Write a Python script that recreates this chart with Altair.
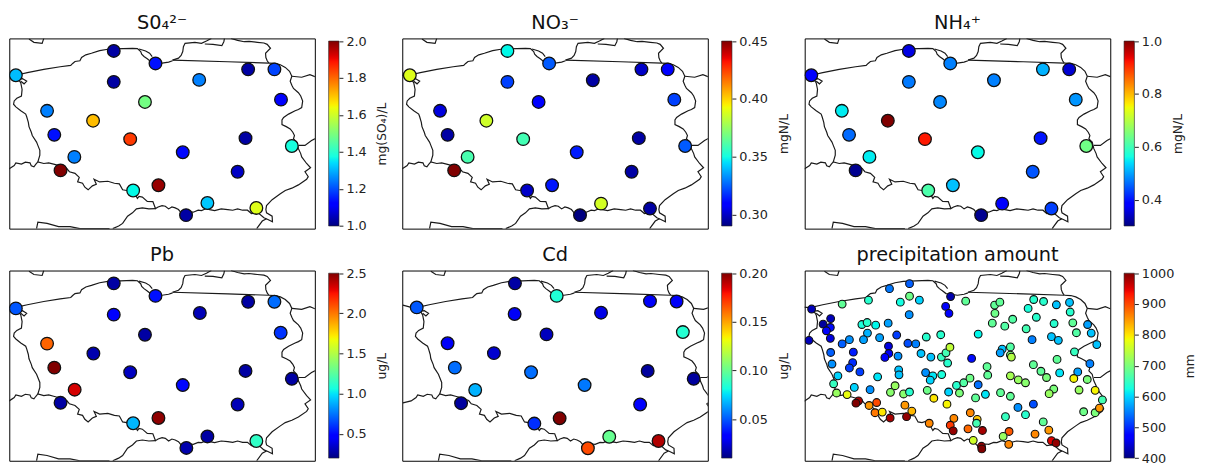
import altair as alt
import pandas as pd

FONT = "DejaVu Sans"

# Border polylines, in map grid units (origin at the top-left of the first map)
BORDER_LINES = [
    [(0,215),(25,222),(45,222),(80,214),(130,204),(180,196),(212,192),(218,186),(225,180),(240,178),(245,168),(258,160),(275,155),(300,147),(325,143),(345,142),(400,140),(415,141),(425,150),(428,158),(435,165),(445,172),(455,180),(490,185),(510,182),(522,178)],
    [(420,142),(440,148),(452,155),(460,165)],
    [(522,176),(690,181),(815,185)],
    [(522,176),(540,170),(548,162),(553,150),(555,135),(560,125),(590,122),(610,125),(625,118),(640,110)],
    [(620,127),(645,128),(672,132),(678,120),(680,110)],
    [(700,110),(720,116),(740,120),(755,119),(780,122),(800,124),(810,128),(820,140),(805,155),(806,168),(810,178),(815,185)],
    [(815,185),(835,186),(850,190),(865,198),(878,210),(885,225),(880,240),(885,252),(890,262),(905,275),(912,285),(918,300),(915,320),(905,326),(895,330),(875,340),(860,350),(855,358),(855,372),(868,378),(880,385),(888,395),(893,405),(890,415),(900,425),(905,445),(912,460),(915,470),(930,490),(942,503),(925,515),(935,530),(930,538),(905,555),(885,565),(865,572),(850,582),(825,600),(808,618),(806,630),(808,640),(825,650),(826,667),(812,660),(800,655),(785,642),(775,640),(762,642),(750,632),(735,632),(720,628),(705,632),(690,630),(670,628),(650,633),(635,630),(625,627),(610,633),(600,632),(585,638),(575,637),(560,645),(548,640),(540,630),(530,625),(520,622),(510,628),(500,620),(490,618),(478,622),(470,627),(462,606),(445,605),(430,592),(420,590),(415,596),(405,578),(395,568),(382,572),(370,570),(360,552),(345,550),(325,544),(300,546),(283,538),(290,553),(278,558),(265,570),(255,562),(248,550),(233,546),(238,532),(225,520),(208,515),(200,505),(182,498),(160,492),(145,488),(130,490),(112,485),(106,492),(100,500),(92,497),(88,488),(74,486),(62,492),(45,488),(40,496),(25,506),(0,512)],
    [(45,222),(52,232),(60,245),(64,265),(62,285),(48,292),(40,300),(38,310),(45,318),(60,330),(75,340),(78,348),(83,365),(85,378),(92,395),(95,405),(108,425),(112,435),(118,450),(118,465),(112,485)],
    [(45,235),(65,232),(78,240),(70,248),(60,240)],
    [(885,225),(915,228),(940,220),(955,226),(985,222)],
    [(905,435),(925,435),(945,420),(955,415),(985,405)],
    [(340,688),(358,680),(370,672),(385,650),(400,640),(412,628),(430,625),(450,628),(470,627)],
    [(808,658),(795,665),(778,688)],
    [(108,688),(112,668),(140,672),(175,682),(210,682),(240,688),(330,688)],
    [(85,112),(100,122),(125,125),(130,110)],
]
BORDER_OFFSET = (25, 110)

so4 = [(20,112,1.31),(318,38,1.03),(445,76,1.14),(578,126,1.25),(727,94,1.03),(807,94,1.19),(827,186,1.12),(318,132,1.03),(413,193,1.49),(115,220,1.25),(255,250,1.71),(137,293,1.14),(368,306,1.85),(198,360,1.25),(528,346,1.13),(719,303,1.03),(860,327,1.38),(156,401,2.0),(695,405,1.06),(454,446,1.98),(377,462,1.37),(603,500,1.32),(538,537,1.03),(752,515,1.62)]
no3 = [(23,112,0.389),(320,38,0.349),(447,76,0.324),(580,127,0.295),(728,94,0.30),(808,94,0.309),(828,186,0.32),(320,132,0.32),(415,193,0.31),(115,220,0.303),(256,250,0.386),(138,293,0.295),(368,306,0.359),(199,360,0.36),(531,346,0.314),(720,303,0.295),(861,327,0.324),(158,401,0.45),(698,405,0.295),(456,446,0.313),(380,462,0.30),(605,502,0.387),(541,537,0.29),(754,517,0.295)]
nh4 = [(20,112,0.38),(317,38,0.36),(443,76,0.475),(576,127,0.475),(725,94,0.51),(805,94,0.35),(825,186,0.49),(317,132,0.47),(412,193,0.48),(113,220,0.55),(253,250,1.0),(135,293,0.46),(366,306,0.92),(197,360,0.55),(527,346,0.56),(718,303,0.40),(857,327,0.64),(155,401,0.31),(694,405,0.445),(451,446,0.52),(376,462,0.61),(601,502,0.38),(537,537,0.31),(751,517,0.43)]
pb = [(20,115,0.68),(318,39,0.27),(445,77,0.52),(580,129,0.31),(727,95,0.27),(807,95,0.73),(826,189,0.6),(318,134,0.45),(413,195,0.27),(115,222,2.05),(256,252,0.29),(137,295,2.5),(368,309,0.33),(199,362,2.33),(528,348,0.5),(719,305,0.27),(860,329,0.27),(156,402,0.27),(695,407,0.31),(454,448,2.47),(377,464,0.9),(603,504,0.27),(539,539,0.29),(752,518,1.14)]
cd = [(17,112,0.05),(316,39,0.016),(443,77,0.084),(578,128,0.027),(727,93,0.03),(808,94,0.03),(827,187,0.085),(315,132,0.03),(412,194,0.02),(111,221,0.03),(252,251,0.023),(133,295,0.054),(365,309,0.054),(195,363,0.067),(528,348,0.056),(720,305,0.015),(860,329,0.015),(152,403,0.015),(697,407,0.032),(452,449,0.2),(375,465,0.042),(603,505,0.10),(538,540,0.168),(753,518,0.192)]

precip_raw = [(40,205,430),(338,128,530),(277,143,545),(133,190,680),(213,178,640),(338,166,690),(310,184,625),(368,178,600),(463,167,425),(509,181,680),(448,197,465),(458,218,470),(337,222,560),(597,193,680),(613,184,680),(598,218,690),(590,248,680),(652,236,670),(628,257,670),(693,265,660),(699,203,630),(716,176,640),(746,182,640),(785,192,590),(825,185,590),(827,214,640),(724,230,640),(778,249,640),(835,247,680),(846,277,670),(880,252,570),(891,278,590),(908,313,590),(770,289,590),(791,300,590),(711,298,550),(98,234,430),(75,251,415),(97,261,480),(85,271,470),(97,294,450),(32,300,430),(193,252,630),(209,246,640),(235,254,620),(273,248,570),(210,278,580),(198,298,570),(247,292,570),(299,284,510),(133,311,530),(155,298,560),(98,337,530),(167,336,490),(333,309,520),(357,311,550),(389,290,640),(433,283,640),(547,281,620),(274,318,450),(275,340,460),(263,352,470),(303,348,560),(373,340,590),(403,351,590),(435,351,650),(449,338,660),(461,321,750),(454,369,640),(527,355,480),(620,327,590),(614,338,570),(645,320,670),(645,345,700),(648,351,740),(840,335,650),(787,358,680),(887,371,550),(102,372,560),(165,368,500),(155,384,510),(187,396,510),(120,408,600),(241,411,610),(305,390,590),(306,405,590),(387,398,560),(409,408,610),(401,421,600),(436,404,630),(574,380,680),(576,406,680),(715,374,680),(738,394,680),(755,413,700),(795,399,610),(850,396,570),(838,416,790),(879,419,700),(645,408,730),(669,420,720),(691,429,710),(107,432,650),(116,460,720),(148,465,780),(170,443,600),(218,450,560),(294,438,720),(280,458,710),(320,463,710),(338,457,640),(392,452,690),(412,476,800),(457,457,600),(481,437,640),(503,429,670),(522,415,690),(547,435,540),(490,460,700),(569,464,610),(539,475,680),(615,459,680),(645,470,680),(777,448,700),(763,462,720),(854,451,720),(903,452,790),(925,481,660),(183,484,980),(175,491,1000),(215,498,850),(238,489,900),(324,497,850),(452,494,790),(668,504,560),(715,494,520),(691,526,640),(630,532,650),(868,517,690),(903,520,700),(916,506,850),(233,520,870),(255,518,800),(279,536,980),(329,532,990),(345,515,830),(398,552,860),(473,537,860),(462,558,910),(471,575,990),(523,520,860),(544,540,820),(542,552,660),(516,569,880),(560,574,980),(745,548,680),(762,573,850),(720,585,860),(641,577,890),(623,592,720),(532,604,760),(557,622,980),(558,630,1000),(640,616,860),(770,605,950),(784,612,990)]
PRECIP_OFFSET = (19, 88)


def jet_channel(t, pts):
    for (a, va), (b, vb) in zip(pts, pts[1:]):
        if a <= t <= b:
            return va + (vb - va) * (t - a) / (b - a)
    return pts[-1][1]


def jet(t):
    r = jet_channel(t, [(0, 0), (.35, 0), (.66, 1), (.89, 1), (1, .5)])
    g = jet_channel(t, [(0, 0), (.125, 0), (.375, 1), (.64, 1), (.91, 0), (1, 0)])
    b = jet_channel(t, [(0, .5), (.11, 1), (.34, 1), (.65, 0), (1, 0)])
    return "#%02x%02x%02x" % (round(r * 255), round(g * 255), round(b * 255))


STEPS = [i / 64 for i in range(65)]
JET = [jet(t) for t in STEPS]
GRADIENT = alt.LinearGradient(
    gradient="linear", x1=0, x2=0, y1=1, y2=0,
    stops=[alt.GradientStop(color=c, offset=t) for c, t in zip(JET, STEPS)],
)

border_df = pd.DataFrame(
    [
        {"seg": s, "i": i, "x": p[0] - BORDER_OFFSET[0], "y": p[1] - BORDER_OFFSET[1]}
        for s, line in enumerate(BORDER_LINES)
        for i, p in enumerate(line)
    ]
)
MAP_H = 193
CB_W = 10.5


def panel(title, stations, lo, hi, ticks, fmt, unit, x0, size, width=310, stroke=1.3):
    df = pd.DataFrame(stations, columns=["x", "y", "value"])
    xs = alt.Scale(domain=[x0, x0 + 930], nice=False, zero=False)
    ys = alt.Scale(domain=[0, 578], reverse=True, nice=False, zero=False)
    lines = (
        alt.Chart(border_df)
        .mark_line(color="#1a1a1a", strokeWidth=1.2, clip=True)
        .encode(
            x=alt.X("x:Q", scale=xs, axis=None),
            y=alt.Y("y:Q", scale=ys, axis=None),
            detail="seg:N",
            order="i:Q",
        )
    )
    points = (
        alt.Chart(df)
        .mark_circle(size=size, stroke="#111111", strokeWidth=stroke, opacity=1, clip=True)
        .encode(
            x=alt.X("x:Q", scale=xs, axis=None),
            y=alt.Y("y:Q", scale=ys, axis=None),
            color=alt.Color(
                "value:Q",
                scale=alt.Scale(domain=[lo, hi], range=JET, clamp=True),
                legend=None,
            ),
        )
    )
    m = (lines + points).properties(
        width=width,
        height=MAP_H,
        view=alt.ViewConfig(stroke="black", strokeWidth=1),
        title=alt.TitleParams(
            title, font=FONT, fontSize=19.6, fontWeight="normal", color="#111111",
            anchor="middle", offset=5,
        ),
    )
    bar = (
        alt.Chart(pd.DataFrame({"lo": [lo], "hi": [hi]}))
        .mark_rect(color=GRADIENT, stroke="#222222", strokeWidth=0.6)
        .encode(
            x=alt.value(0),
            x2=alt.value(CB_W),
            y=alt.Y(
                "lo:Q",
                scale=alt.Scale(domain=[lo, hi], range=[MAP_H - 2.7, 2.7], nice=False, zero=False),
                axis=alt.Axis(
                    orient="right", values=ticks, format=fmt, title=unit, grid=False,
                    domain=False, tickSize=4, tickColor="#222222", tickWidth=1,
                    labelFont=FONT, labelFontSize=13, labelColor="#222222", labelPadding=3,
                    labelOverlap=False, labelBound=False, labelFlush=False,
                    titleFont=FONT, titleFontSize=12.5, titleFontWeight="normal",
                    titleColor="#222222", titlePadding=10, titleAngle=270, titleBaseline="top",
                ),
            ),
            y2="hi:Q",
        )
        .properties(width=CB_W, height=MAP_H, view=alt.ViewConfig(stroke="transparent"))
    )
    return alt.hconcat(m, bar, spacing=12).resolve_scale(color="independent")


precip = [(x - PRECIP_OFFSET[0], y - PRECIP_OFFSET[1], v) for x, y, v in precip_raw]

p1 = panel("S0₄²⁻", so4, 1.0, 2.0, [1.0, 1.2, 1.4, 1.6, 1.8, 2.0], ".1f", "mg(SO₄)/L", 0, 165)
p2 = panel("NO₃⁻", no3, 0.29, 0.45, [0.30, 0.35, 0.40, 0.45], ".2f", "mgN/L", 0, 165)
p3 = panel("NH₄⁺", nh4, 0.3, 1.0, [0.4, 0.6, 0.8, 1.0], ".1f", "mgN/L", 0, 165)
p4 = panel("Pb", pb, 0.2, 2.5, [0.5, 1.0, 1.5, 2.0, 2.5], ".1f", "ug/L", 0, 165)
p5 = panel("Cd", cd, 0.01, 0.2, [0.05, 0.10, 0.15, 0.20], ".2f", "ug/L", -27, 165)
p6 = panel("precipitation amount", precip, 400, 1000, list(range(400, 1001, 100)), "d", "mm", 0, 62, stroke=1.1)


def row(a, b, c):
    inner = alt.hconcat(a, b, spacing=11.7).resolve_scale(color="independent")
    return alt.hconcat(inner, c, spacing=13).resolve_scale(color="independent")


chart = alt.vconcat(row(p1, p2, p3), row(p4, p5, p6), spacing=10.5).resolve_scale(color="independent").properties(
    padding={"left": 0.3, "top": 0.5, "right": 0, "bottom": 0},
    background="white",
)

chart.save("out.html", embed_options={"renderer": "svg", "actions": False})
